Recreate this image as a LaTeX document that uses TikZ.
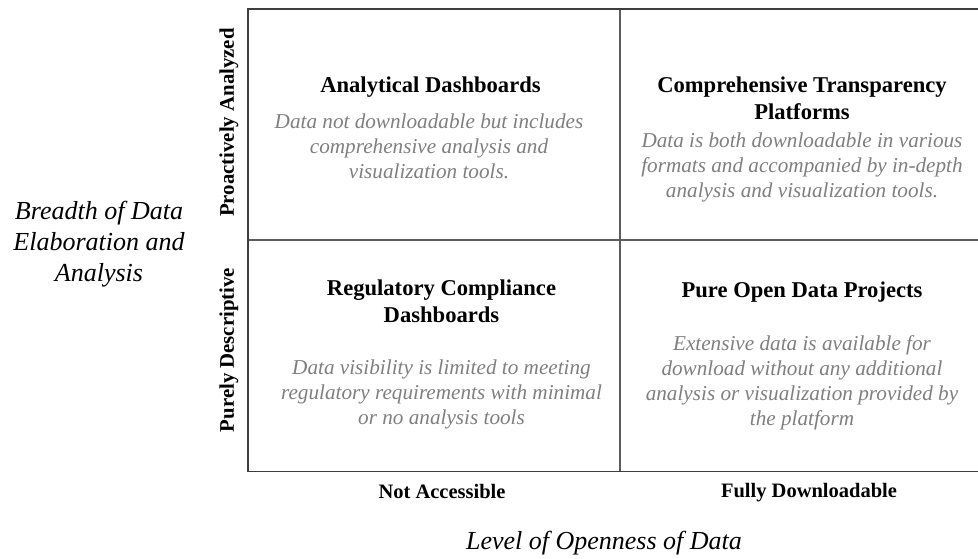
\documentclass[tikz,border=0pt]{standalone}
\usepackage{fontspec}
\setmainfont{Liberation Serif}
\definecolor{frameline}{HTML}{3E3E3E}
\definecolor{gridline}{HTML}{5C5C5C}
\definecolor{desctext}{HTML}{7F7F7F}
% top-aligned centred block, so that the node baseline is the first line's baseline
\newcommand{\cellblock}[2]{\parbox[t]{#1}{\centering #2}}
\tikzset{
  celltitle/.style={anchor=base, inner sep=0pt, text=black,
    font=\fontsize{22.6}{27}\selectfont\bfseries},
  celldesc/.style={anchor=base, inner sep=0pt, text=desctext,
    font=\fontsize{21.2}{25}\selectfont\itshape},
  ticklabel/.style={anchor=base, inner sep=0pt, text=black,
    font=\fontsize{20.5}{24}\selectfont\bfseries},
  sidelabel/.style={anchor=center, inner sep=0pt, text=black, rotate=90,
    font=\fontsize{20.8}{24}\selectfont\bfseries},
  axislabel/.style={anchor=base, inner sep=0pt, text=black,
    font=\fontsize{26}{31}\selectfont\itshape},
}
\begin{document}
\begin{tikzpicture}[x=1pt, y=-1pt]
\useasboundingbox (0,0) rectangle (978,558);
\clip (0,0) rectangle (978,558);

% quadrant grid
\draw[gridline, line width=1.4pt] (620,9) -- (620,471.5);
\draw[gridline, line width=1.4pt] (248,240) -- (995,240);
\draw[frameline, line width=1.8pt] (995,9) -- (248,9) -- (248,471.5) -- (995,471.5);

% vertical axis
\node[sidelabel] (proact) at (229,122.5) {Proactively Analyzed};
\node[sidelabel] (descr) at (229,350) {Purely Descriptive};
\node[axislabel] (yaxis) at (99,219)
  {\cellblock{200pt}{Breadth of Data\\Elaboration and\\Analysis}};

% horizontal axis
\node[ticklabel] (notacc) at (442,498) {Not Accessible};
\node[ticklabel] (fulldl) at (809,497) {Fully Downloadable};
\node[axislabel] (xaxis) at (604,549) {Level of Openness of Data};

% top left
\node[celltitle] (tlT) at (430.5,92) {Analytical Dashboards};
\node[celldesc] (tlD) at (429,128)
  {\cellblock{380pt}{Data not downloadable but includes\\comprehensive analysis and\\visualization tools.}};

% top right
\node[celltitle] (trT) at (802,92)
  {\cellblock{380pt}{Comprehensive Transparency\\Platforms}};
\node[celldesc] (trD) at (802,147)
  {\cellblock{380pt}{Data is both downloadable in various\\formats and accompanied by in-depth\\analysis and visualization tools.}};

% bottom left
\node[celltitle] (blT) at (441.5,295)
  {\cellblock{380pt}{Regulatory Compliance\\Dashboards}};
\node[celldesc] (blD) at (441.5,374)
  {\cellblock{380pt}{Data visibility is limited to meeting\\regulatory requirements with minimal\\or no analysis tools}};

% bottom right
\node[celltitle] (brT) at (802,297) {Pure Open Data Projects};
\node[celldesc] (brD) at (802,350)
  {\cellblock{380pt}{Extensive data is available for\\download without any additional\\analysis or visualization provided by\\the platform}};
\end{tikzpicture}
\end{document}
